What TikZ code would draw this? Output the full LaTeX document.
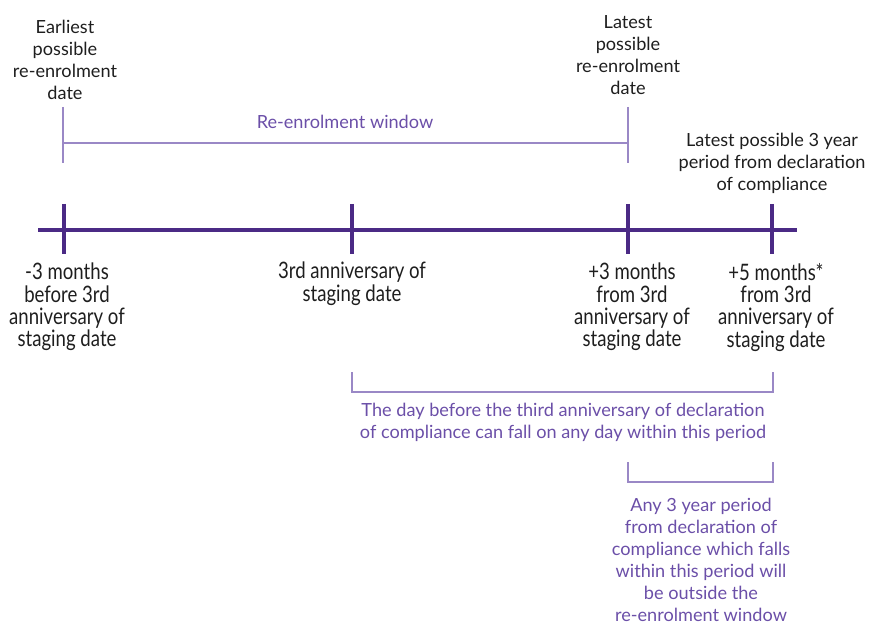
\documentclass[tikz,border=0pt]{standalone}
\usepackage{fontspec}
\setmainfont{Lato}
\newfontfamily\narrowfont[FakeStretch=0.82]{Lato}
\usetikzlibrary{positioning}
\definecolor{axispurple}{HTML}{4B2A85}
\definecolor{linepurple}{HTML}{9A88C6}
\definecolor{textpurple}{HTML}{6B4FA8}
\definecolor{labelblack}{HTML}{1E1E1E}
\tikzset{
    every node/.style={font=\fontsize{13.6}{16.5}\selectfont},
    axisline/.style={draw=axispurple,line width=3pt},
    tickmark/.style={draw=axispurple,line width=2.6pt},
    bracket/.style={draw=linepurple,line width=1.2pt},
    toplabel/.style={align=center,text=labelblack,inner sep=0pt},
    datelabel/.style={align=center,text=labelblack,inner sep=0pt,font=\narrowfont\fontsize{17}{16.7}\selectfont},
    note/.style={align=center,text=textpurple,inner sep=0pt}
}
\begin{document}
\begin{tikzpicture}[x=0.75pt,y=-0.75pt]
\useasboundingbox (0,0) rectangle (873,623);
% time line
\coordinate (axL) at (38,230);
\coordinate (axR) at (797,230);
\coordinate (m3) at (64,230);
\coordinate (ann) at (352,230);
\coordinate (p3) at (628,230);
\coordinate (p5) at (772,230);
\draw[axisline] (axL) -- (axR);
\foreach \c in {m3,ann,p3,p5}
    \draw[tickmark] (\c) ++(0,-26) -- ++(0,50);

% re-enrolment window
\coordinate (wLtop) at (63,107);
\coordinate (wRtop) at (628,107);
\coordinate (wL) at (63,143);
\coordinate (wR) at (628,143);
\draw[bracket] (wLtop) -- ++(0,56);
\draw[bracket] (wRtop) -- ++(0,56);
\draw[bracket] (wL) -- (wR);
\node[note] (window) at (345,122) {Re-enrolment window};

\node[toplabel,anchor=south] (earliest) at (65,100)
    {Earliest\\possible\\re-enrolment\\date};
\node[toplabel,anchor=south] (latest) at (628,95)
    {Latest\\possible\\re-enrolment\\date};
\node[toplabel,anchor=south] (latest3) at (772,194)
    {Latest possible 3 year\\period from declaration\\of compliance};

% dates under the line
\node[datelabel,anchor=north] (lm3) at (67,263)
    {-3 months\\before 3rd\\anniversary of\\staging date};
\node[datelabel,anchor=north] (lann) at (352,262)
    {3rd anniversary of\\staging date};
\node[datelabel,anchor=north] (lp3) at (632,263)
    {+3 months\\from 3rd\\anniversary of\\staging date};
\node[datelabel,anchor=north] (lp5) at (776,263)
    {+5 months*\\from 3rd\\anniversary of\\staging date};

% periods
\coordinate (b1L) at (352,372);
\coordinate (b1R) at (773,372);
\draw[bracket] (b1L) -- ++(0,20) -| (b1R);
\node[note,anchor=north] (period1) at (563,403)
    {The day before the third anniversary of declaration\\of compliance can fall on any day within this period};

\coordinate (b2L) at (628,462);
\coordinate (b2R) at (773,462);
\draw[bracket] (b2L) -- ++(0,20) -| (b2R);
\node[note,anchor=north] (period2) at (701,498)
    {Any 3 year period\\from declaration of\\compliance which falls\\within this period will\\be outside the\\re-enrolment window};
\end{tikzpicture}
\end{document}
